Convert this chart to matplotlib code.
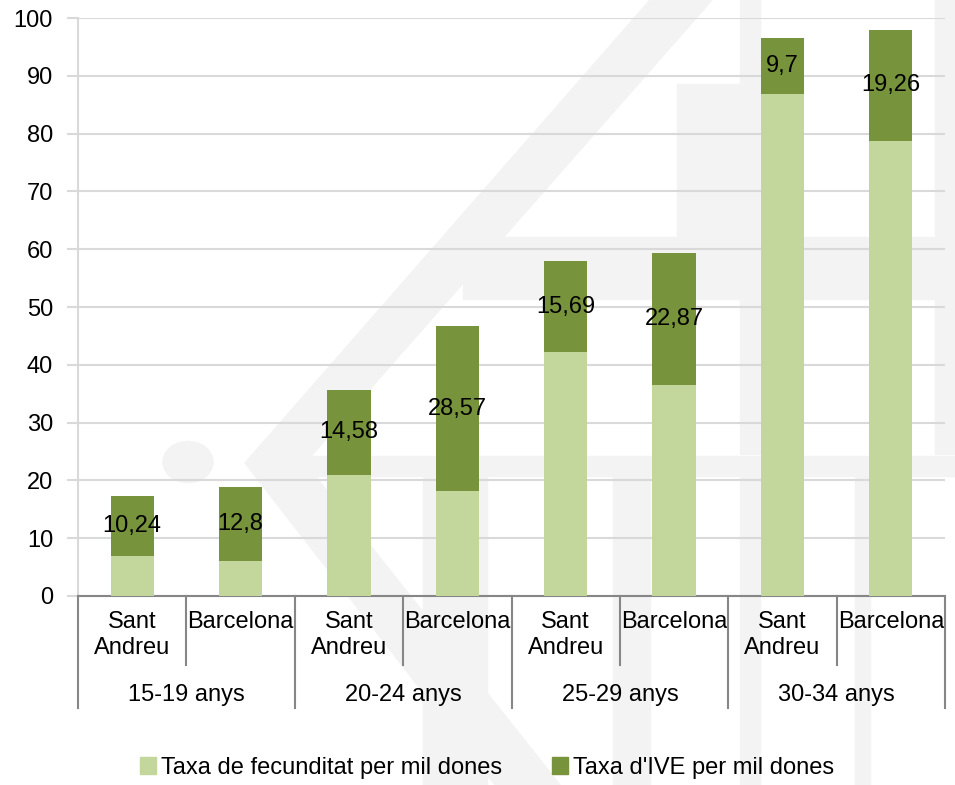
import matplotlib.pyplot as plt
from matplotlib.patches import Polygon, Circle, Rectangle
from matplotlib.transforms import blended_transform_factory

plt.rcParams['font.family'] = ['Liberation Sans', 'DejaVu Sans']

# data
groups = ['15-19 anys', '20-24 anys', '25-29 anys', '30-34 anys']
places = ['Sant\nAndreu', 'Barcelona']
fecunditat = [7.0, 6.0, 21.0, 18.1, 42.2, 36.5, 86.9, 78.7]
ive = [10.24, 12.8, 14.58, 28.57, 15.69, 22.87, 9.7, 19.26]
ive_labels = ['10,24', '12,8', '14,58', '28,57', '15,69', '22,87', '9,7', '19,26']
legend_names = ['Taxa de fecunditat per mil dones', "Taxa d'IVE per mil dones"]

light = '#C3D69B'
dark = '#77933C'
grid_col = '#D9D9D9'
axis_col = '#868686'
wm = '#F3F3F3'

W, H = 955, 785
fig = plt.figure(figsize=(W / 100, H / 100), dpi=100)


def px(x, y):
    # pixel coords (top-left origin) -> figure fraction
    return (x / W, 1 - y / H)


def wm_rect(x0, x1, y0, y1):
    (fx0, fy1), (fx1, fy0) = px(x0, y0), px(x1, y1)
    fig.patches.append(Rectangle((fx0, fy0), fx1 - fx0, fy1 - fy0, transform=fig.transFigure,
                                 color=wm, zorder=-1))


# faint watermark logo behind the chart
chev = [px(650, 0), px(712, 0), px(305, 463), px(560, 785), px(495, 785), px(245, 463)]
fig.patches.append(Polygon(chev, closed=True, transform=fig.transFigure, color=wm, zorder=-1))
fig.patches.append(Circle(px(188, 462), 25 / W, transform=fig.transFigure, color=wm, zorder=-1))
for r in [(463, 955, 237, 299), (677, 740, 84, 237), (740, 760, 0, 454), (935, 955, 0, 454),
          (298, 955, 456, 476), (423, 487, 476, 785), (613, 650, 476, 785),
          (740, 760, 476, 785), (855, 870, 476, 785)]:
    wm_rect(*r)

ax = fig.add_axes([78 / W, 1 - 596 / H, (945 - 78) / W, (596 - 18) / H])
ax.patch.set_alpha(0)

x = list(range(len(fecunditat)))
ax.bar(x, fecunditat, width=0.4, color=light, zorder=3)
ax.bar(x, ive, width=0.4, bottom=fecunditat, color=dark, zorder=3)

for i in x:
    ax.text(i, fecunditat[i] + ive[i] / 2, ive_labels[i], ha='center', va='center',
            fontsize=17, color='black', zorder=4)

ax.set_xlim(-0.5, len(x) - 0.5)
ax.set_ylim(0, 100)
ax.set_yticks(range(0, 101, 10))
ax.yaxis.grid(True, color=grid_col, linewidth=1.5, zorder=0)
ax.tick_params(axis='y', labelsize=17, length=8, width=1.5, color=grid_col, pad=10)
ax.tick_params(axis='x', length=0, labelbottom=False)
for s in ['top', 'right']:
    ax.spines[s].set_visible(False)
ax.spines['left'].set_color(grid_col)
ax.spines['left'].set_linewidth(1.5)
ax.spines['bottom'].set_color(axis_col)
ax.spines['bottom'].set_linewidth(1.5)

# two-level category axis
tr = blended_transform_factory(ax.transData, ax.transAxes)
inner = -0.119
outer = -0.194
for i in x:
    ax.text(i, -0.026, places[i % 2], transform=tr, ha='center', va='top',
            fontsize=17, linespacing=1.25)
for g, name in enumerate(groups):
    ax.text(2 * g + 0.5, -0.171, name, transform=tr, ha='center', va='center', fontsize=17)
for k in range(len(x) + 1):
    xs = k - 0.5
    depth = outer if k % 2 == 0 else inner
    ax.plot([xs, xs], [0, depth], transform=tr, color=axis_col, linewidth=1.5,
            clip_on=False, zorder=5)

handles = [Rectangle((0, 0), 1, 1, color=light), Rectangle((0, 0), 1, 1, color=dark)]
fig.legend(handles, legend_names, loc='center', bbox_to_anchor=(0.51, 0.022),
           ncol=2, frameon=False, fontsize=17, handlelength=0.7, handleheight=0.7,
           handletextpad=0.2, columnspacing=2.1, borderpad=0.1)

fig.savefig('out.png', dpi=100)
